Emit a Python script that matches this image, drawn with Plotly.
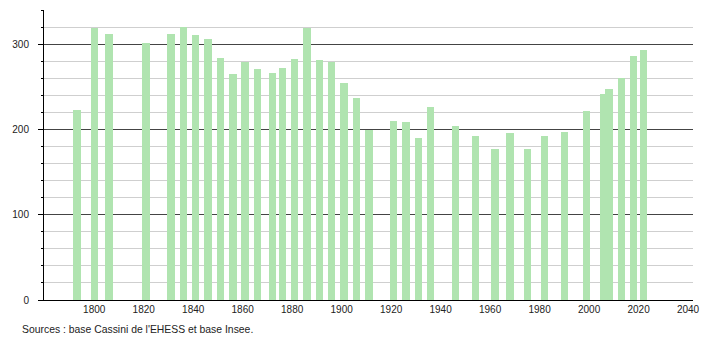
import plotly.graph_objects as go

years = [1793, 1800, 1806, 1821, 1831, 1836, 1841, 1846, 1851, 1856, 1861, 1866,
         1872, 1876, 1881, 1886, 1891, 1896, 1901, 1906, 1911, 1921, 1926, 1931,
         1936, 1946, 1954, 1962, 1968, 1975, 1982, 1990, 1999, 2006, 2008, 2013,
         2018, 2022]
population = [223, 320, 313, 302, 313, 321, 312, 307, 285, 266, 280, 272,
              267, 273, 283, 320, 282, 280, 255, 238, 200, 211, 209, 191,
              227, 205, 193, 177, 196, 177, 193, 198, 222, 242, 248, 261,
              287, 294]
x_ticks = [1800, 1820, 1840, 1860, 1880, 1900, 1920, 1940, 1960, 1980, 2000, 2020, 2040]
y_ticks = [0, 100, 200, 300]
source_text = "Sources : base Cassini de l'EHESS et base Insee."

fig = go.Figure()
fig.add_trace(go.Bar(
    x=years, y=population, width=3.0,
    marker=dict(color="#b0e4b0", line=dict(width=0)),
    hoverinfo="x+y",
))

fig.update_layout(
    width=710, height=340,
    margin=dict(l=44, r=10, t=10, b=40),
    plot_bgcolor="white", paper_bgcolor="white",
    showlegend=False,
    bargap=0,
    font=dict(family="Liberation Sans, Arial, sans-serif", size=10, color="#222"),
    xaxis=dict(
        range=[1779.7, 2042.0], tickvals=x_ticks, ticktext=[str(v) for v in x_ticks],
        showgrid=False, zeroline=False, showline=True, linecolor="black", linewidth=1,
        ticks="", tickfont=dict(size=10, color="#222"),
    ),
    yaxis=dict(
        range=[0, 341], tickvals=y_ticks, showgrid=True, gridcolor="#444", gridwidth=1,
        zeroline=False, showline=True, linecolor="black", linewidth=1,
        ticks="outside", ticklen=5, tickcolor="black", ticklabelstandoff=7,
        tickfont=dict(size=10, color="#222"),
        minor=dict(dtick=20, tick0=0, showgrid=True, gridcolor="#cfcfcf", gridwidth=1,
                   ticks="outside", ticklen=2, tickcolor="black"),
    ),
    annotations=[dict(
        text=source_text, xref="paper", yref="paper", x=-0.037, y=-0.075,
        xanchor="left", yanchor="top", showarrow=False,
        font=dict(size=10.4, color="#222"),
    )],
)

fig.write_html("out.html")
